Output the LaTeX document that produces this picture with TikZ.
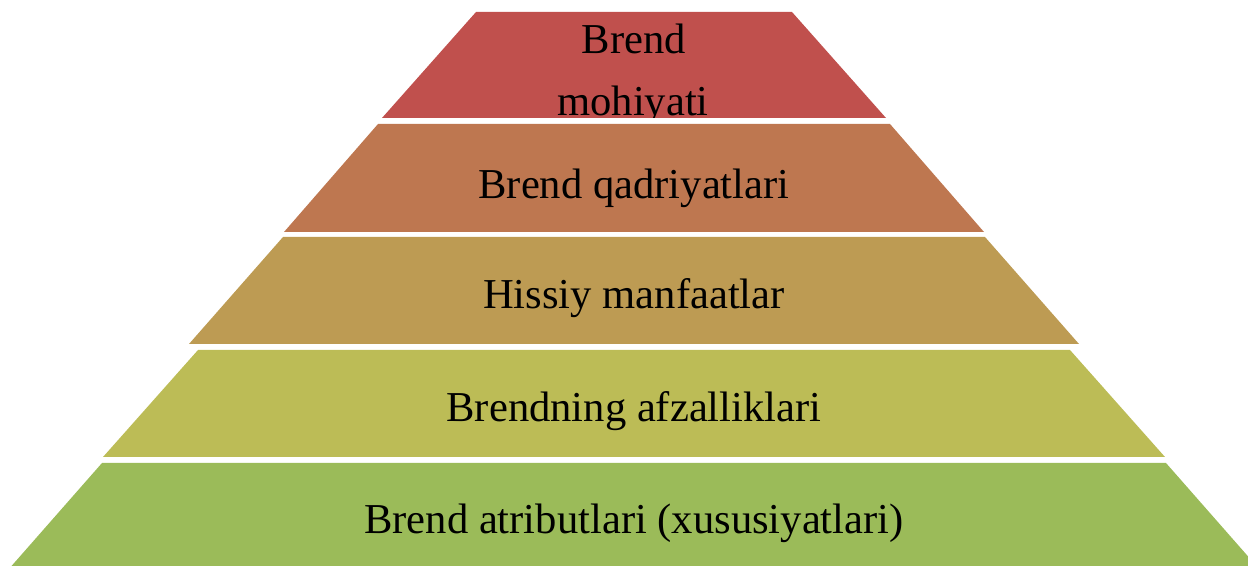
\documentclass[tikz,border=0pt]{standalone}
\usepackage{fontspec}
\setmainfont{Liberation Serif}
\definecolor{lvlA}{HTML}{C0504D}
\definecolor{lvlB}{HTML}{BE7750}
\definecolor{lvlC}{HTML}{BD9B53}
\definecolor{lvlD}{HTML}{BCBC56}
\definecolor{lvlE}{HTML}{9BBB59}
\tikzset{
  lvltext/.style={anchor=base, inner sep=0pt, text=black,
    font=\fontsize{21.3}{25}\selectfont}
}
\begin{document}
\begin{tikzpicture}[x=0.5pt, y=-0.5pt]
\useasboundingbox (0,0) rectangle (1248,566);
\clip (0,0) rectangle (1248,566);
% pyramid layers, centred on x = 634
\fill[lvlA] (476,12) -- (792,12) -- (886,118) -- (382,118) -- cycle;
\fill[lvlB] (378,124) -- (890,124) -- (984,232) -- (284,232) -- cycle;
\fill[lvlC] (283,237) -- (985,237) -- (1079,344) -- (189,344) -- cycle;
\fill[lvlD] (198,350) -- (1070,350) -- (1165,457) -- (103,457) -- cycle;
\fill[lvlE] (102,463) -- (1166,463) -- (1260,570) -- (8,570) -- cycle;
% the top label is cut off by its own layer
\begin{scope}
  \clip (476,12) -- (792,12) -- (886,118) -- (382,118) -- cycle;
  \node[lvltext] (tA1) at (634,54) {Brend};
  \node[lvltext] (tA2) at (633,116) {mohiyati};
\end{scope}
\node[lvltext] (tB) at (634,199) {Brend qadriyatlari};
\node[lvltext] (tC) at (634,309) {Hissiy manfaatlar};
\node[lvltext] (tD) at (634,422) {Brendning afzalliklari};
\node[lvltext] (tE) at (634,534) {Brend atributlari (xususiyatlari)};
\end{tikzpicture}
\end{document}
